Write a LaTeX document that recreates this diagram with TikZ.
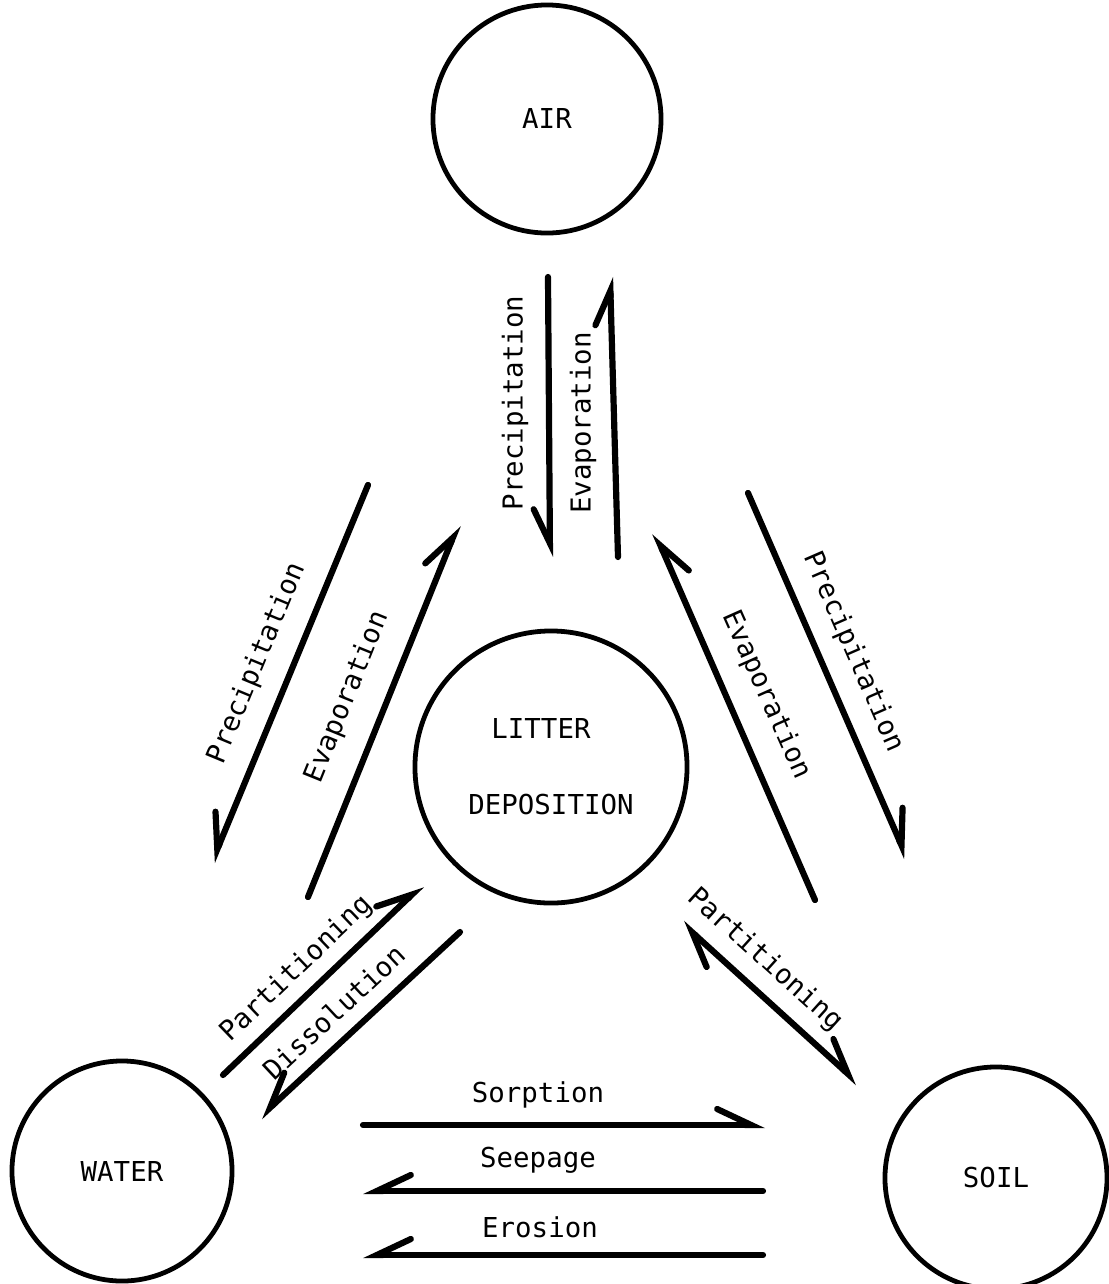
\documentclass[tikz,border=0pt]{standalone}
\usepackage{fontspec}
\newfontfamily\labelfont{DejaVu Sans Mono}
\usetikzlibrary{arrows.meta}

\tikzset{
    compartment/.style={circle, draw=black, line width=3.4pt, inner sep=0pt},
    lbl/.style={font=\labelfont\fontsize{19.5}{23}\selectfont, inner sep=0pt},
    fwd/.style={line width=4.4pt, line cap=round, -{Straight Barb[harpoon, length=0.85cm, width=0.8cm, line cap=round]}},
    bwd/.style={line width=4.4pt, line cap=round, -{Straight Barb[harpoon, swap, length=0.85cm, width=0.8cm, line cap=round]}},
    both/.style={line width=4.4pt, line cap=round, {Straight Barb[harpoon, length=0.85cm, width=0.8cm, line cap=round]}-{Straight Barb[harpoon, length=0.85cm, width=0.8cm, line cap=round]}}
}

\begin{document}
\begin{tikzpicture}[x=0.025cm, y=-0.025cm]
    \useasboundingbox (0,0) rectangle (1109,1284);

    % compartments
    \node[compartment, minimum size=5.7cm, lbl] (air) at (547, 119) {AIR};
    \node[compartment, minimum size=6.8cm, lbl, align=center] (litter) at (551, 767) {LITTER\hspace*{0.5cm}\\[1.1cm]DEPOSITION};
    \node[compartment, minimum size=5.5cm, lbl] (water) at (122, 1171) {WATER};
    \node[compartment, minimum size=5.55cm, lbl] (soil) at (996, 1178) {SOIL};

    % arrow ends
    \coordinate (ap1) at (548, 277);  \coordinate (ap2) at (550, 557);
    \coordinate (ae1) at (618, 557);  \coordinate (ae2) at (610, 277);
    \coordinate (wp1) at (368, 485);  \coordinate (wp2) at (212, 862);
    \coordinate (we1) at (308, 897);  \coordinate (we2) at (458, 525);
    \coordinate (se1) at (815, 900);  \coordinate (se2) at (655, 533);
    \coordinate (sp1) at (748, 493);  \coordinate (sp2) at (907, 858);
    \coordinate (wt1) at (223, 1075); \coordinate (wt2) at (422, 885);
    \coordinate (wd1) at (460, 932);  \coordinate (wd2) at (260, 1117);
    \coordinate (st1) at (682, 923);  \coordinate (st2) at (858, 1083);
    \coordinate (so1) at (363, 1125); \coordinate (so2) at (765, 1125);
    \coordinate (se3) at (763, 1191); \coordinate (se4) at (363, 1191);
    \coordinate (er1) at (763, 1255); \coordinate (er2) at (363, 1255);

    \draw[bwd] (ap1) -- (ap2);
    \draw[fwd] (ae1) -- (ae2);
    \draw[bwd] (wp1) -- (wp2);
    \draw[fwd] (we1) -- (we2);
    \draw[bwd] (se1) -- (se2);
    \draw[fwd] (sp1) -- (sp2);
    \draw[fwd] (wt1) -- (wt2);
    \draw[bwd] (wd1) -- (wd2);
    \draw[both] (st1) -- (st2);
    \draw[fwd] (so1) -- (so2);
    \draw[bwd] (se3) -- (se4);
    \draw[bwd] (er1) -- (er2);

    % labels
    \node[lbl, rotate=90] (lap) at (515, 403) {Precipitation};
    \node[lbl, rotate=90] (lae) at (583, 423) {Evaporation};
    \node[lbl, rotate=67.5] (lwp) at (257, 663) {Precipitation};
    \node[lbl, rotate=68] (lwe) at (347, 697) {Evaporation};
    \node[lbl, rotate=-66] (lse) at (766, 695) {Evaporation};
    \node[lbl, rotate=-66.5] (lsp) at (853, 652) {Precipitation};
    \node[lbl, rotate=43.7] (lwt) at (297, 969) {Partitioning};
    \node[lbl, rotate=43] (lwd) at (334, 1012) {Dissolution};
    \node[lbl, rotate=-42] (lst) at (765, 960) {Partitioning};
    \node[lbl] (lso) at (538, 1095) {Sorption};
    \node[lbl] (lsee) at (538, 1160) {Seepage};
    \node[lbl] (ler) at (540, 1227) {Erosion};
\end{tikzpicture}
\end{document}
